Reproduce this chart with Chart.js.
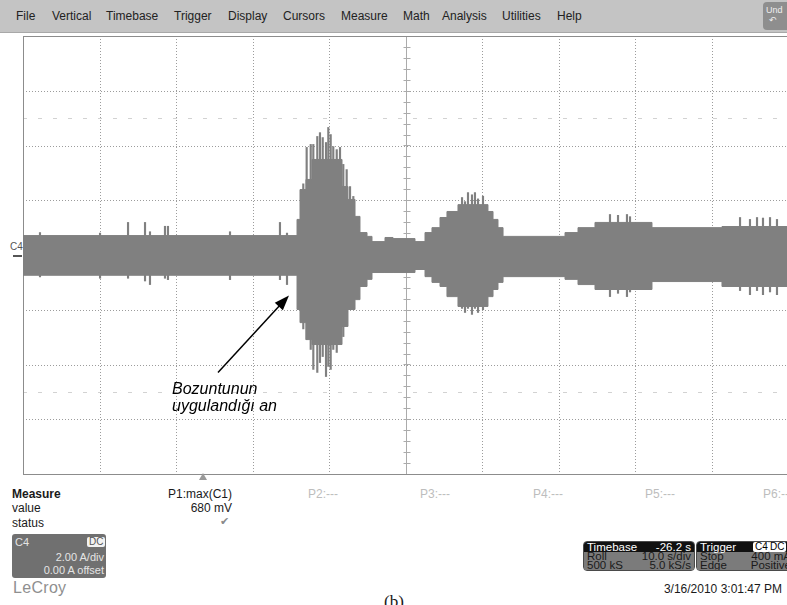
<!DOCTYPE html>
<html>
<head>
<meta charset="utf-8">
<script src="https://cdn.jsdelivr.net/npm/chart.js@4/dist/chart.umd.min.js"></script>
<style>
  body { margin:0; width:787px; height:605px; overflow:hidden; position:relative; background:#fff;
         font-family: Arial, "Liberation Sans", sans-serif; color:#1a1a1a; }
  .abs { position:absolute; white-space:nowrap; }
  #menu { position:absolute; left:0; top:0; width:787px; height:32px; background:#c4c4c4;
          border-bottom:1px solid #a8a8a8; }
  #menu span { position:absolute; top:9px; font-size:12px; line-height:14px; color:#222; }
  #undo { position:absolute; left:763px; top:2px; width:30px; height:28px; background:#8e8e8e;
          border-radius:4px; color:#eee; font-size:9px; line-height:10px; padding:3px 0 0 3px; box-sizing:border-box; }
  #plot { position:absolute; left:0; top:33px; width:800px; height:445px; }
  .row { font-size:12px; line-height:14px; }
  .dim { color:#bdbdbd; }
  #c4box { position:absolute; left:12px; top:534px; width:94px; height:44px; background:#707070;
           border-radius:3px; color:#e4e4e4; font-size:11px; }
  .tag { position:absolute; background:#f2f2f2; color:#555; border-radius:2px; font-size:10px;
         line-height:10px; padding:0 2px; }
  .panel { position:absolute; top:542px; height:28px; background:#7b7b7b; outline:1px solid #4a4a4a;
           border-radius:3px; overflow:hidden; font-size:11.5px; }
  .panel div { position:relative; height:9px; line-height:9px; padding:0 3px; white-space:nowrap; }
  .panel .hd { background:#111; color:#fff; height:10px; line-height:11px; }
  .panel .r { position:absolute; right:3px; top:0; }
</style>
</head>
<body>

<div id="menu">
  <span style="left:16px">File</span>
  <span style="left:52px">Vertical</span>
  <span style="left:106px">Timebase</span>
  <span style="left:174px">Trigger</span>
  <span style="left:228px">Display</span>
  <span style="left:283px">Cursors</span>
  <span style="left:341px">Measure</span>
  <span style="left:403px">Math</span>
  <span style="left:442px">Analysis</span>
  <span style="left:502px">Utilities</span>
  <span style="left:557px">Help</span>
  <div id="undo">Und<br>&nbsp;↶</div>
</div>

<div class="abs" style="left:10px;top:241px;font-size:10px;color:#555">C4</div>
<div class="abs" style="left:13px;top:255px;width:9px;height:2px;background:#555"></div>

<div id="plot"><canvas id="scope" width="800" height="445"></canvas></div>

<!-- measurement strip -->
<div class="abs" style="left:199px;top:473px;width:0;height:0;border-left:4px solid transparent;border-right:4px solid transparent;border-bottom:7px solid #9a9a9a"></div>
<div class="abs row" style="left:12px;top:487px;font-weight:bold">Measure</div>
<div class="abs row" style="left:12px;top:501px">value</div>
<div class="abs row" style="left:12px;top:516px">status</div>
<div class="abs row" style="right:555px;top:487px">P1:max(C1)</div>
<div class="abs row" style="right:555px;top:501px">680 mV</div>
<div class="abs" style="left:220px;top:515px;font-size:11px;color:#8a8a8a">✔</div>
<div class="abs row dim" style="left:308px;top:487px">P2:---</div>
<div class="abs row dim" style="left:420px;top:487px">P3:---</div>
<div class="abs row dim" style="left:533px;top:487px">P4:---</div>
<div class="abs row dim" style="left:645px;top:487px">P5:---</div>
<div class="abs row dim" style="left:763px;top:487px">P6:---</div>

<div id="c4box">
  <div class="abs" style="left:3px;top:2px">C4</div>
  <div class="tag" style="left:75px;top:3px">DC</div>
  <div class="abs" style="right:2px;top:17px">2.00 A/div</div>
  <div class="abs" style="right:2px;top:30px">0.00 A offset</div>
</div>
<div class="abs" style="left:13px;top:579px;font-size:16px;color:#8f8f8f;letter-spacing:0.3px">LeCroy</div>

<div class="panel" style="left:584px;width:110px">
  <div class="hd">Timebase<span class="r">-26.2 s</span></div>
  <div>Roll<span class="r">10.0 s/div</span></div>
  <div>500 kS<span class="r">5.0 kS/s</span></div>
</div>
<div class="panel" style="left:697px;width:110px">
  <div class="hd">Trigger<span class="tag" style="left:56px;top:0;background:#fff;color:#000">C4</span><span class="tag" style="left:71px;top:0;background:#fff;color:#000">DC</span></div>
  <div>Stop<span class="r" style="right:16px">400 mA</span></div>
  <div>Edge<span class="r" style="right:16px">Positive</span></div>
</div>
<div class="abs row" style="right:5px;top:582px">3/16/2010 3:01:47 PM</div>
<div class="abs" style="left:384px;top:592px;font-family:'Liberation Serif',serif;font-size:17px">(b)</div>

<script>
// channel C4, 2 A/div, 10 s/div (roll mode)
const envTime  = [0, 35.82, 36.21, 36.99, 37.78, 41.70, 42.48, 43.40, 44.05, 44.97, 45.62, 47.32, 48.37, 51.24,
                  52.55, 53.46, 54.51, 55.42, 56.86, 60.78, 61.44, 62.09, 62.75, 70.85, 72.55, 74.77, 82.22, 91.37, 100];
const envUpper = [0.71, 1.30, 2.39, 2.76, 3.49, 2.50, 2.03, 1.41, 0.82, 0.68, 0.49, 0.64, 0.60, 0.49,
                  0.82, 1.00, 1.37, 1.59, 1.84, 1.59, 1.30, 1.00, 0.68, 0.82, 1.00, 1.19, 1.00, 1.04, 1.04];
const envLower = [-0.74, -1.99, -2.47, -3.09, -3.27, -2.61, -1.99, -1.63, -1.15, -0.89, -0.64, -0.64, -0.64, -0.53,
                  -0.79, -1.00, -1.15, -1.52, -1.88, -1.52, -1.26, -1.00, -0.79, -0.89, -1.08, -1.26, -0.97, -1.15, -1.15];

// single cycles that poke out of the envelope
const spikeTime = [2.22, 10.07, 13.73, 15.95, 16.60, 18.56, 18.95, 27.06, 33.59, 34.51,
                   36.64, 37.08, 37.61, 37.95, 38.47, 38.82, 39.18, 39.61, 39.91, 40.22, 40.56, 41.01, 41.44,
                   41.87, 42.31, 42.75, 43.18,
                   57.39, 57.78, 58.17, 58.69, 59.08, 59.48, 60.13,
                   76.73, 77.78, 78.95, 79.35,
                   93.73, 95.03, 95.95, 96.73, 97.65, 98.56];
const spikeHigh = [0.82, 0.80, 1.19, 1.19, 0.85, 1.05, 1.05, 0.85, 1.19, 0.80,
                   2.60, 3.93, 4.04, 4.04, 4.33, 4.47, 4.29, 4.11, 4.66, 4.40, 3.96, 3.85, 3.93,
                   3.31, 3.12, 2.50, 2.14,
                   2.10, 1.95, 2.28, 2.20, 2.28, 2.05, 2.15,
                   1.48, 1.45, 1.48, 1.40,
                   1.37, 1.30, 1.37, 1.35, 1.37, 1.30];
const spikeLow  = [-0.80, -0.85, -0.85, -0.95, -1.08, -0.85, -0.90, -0.90, -0.90, -1.08,
                   -2.70, -3.09, -3.45, -4.18, -4.29, -3.93, -3.71, -4.44, -4.07, -4.18, -3.45, -3.56, -3.09,
                   -2.98, -2.10, -1.88, -1.63,
                   -1.95, -2.10, -1.95, -2.17, -1.95, -2.10, -2.00,
                   -1.52, -1.40, -1.52, -1.35,
                   -1.30, -1.45, -1.30, -1.45, -1.35, -1.45];

const timeMin = 0, timeMax = 100, timeDiv = 10;
const ampMin = -8, ampMax = 8, ampDiv = 2;
const waveColor = '#808080';

function seg(ctx, x0, y0, x1, y1) { ctx.beginPath(); ctx.moveTo(x0, y0); ctx.lineTo(x1, y1); ctx.stroke(); }

// graticule: dotted divisions, solid centre cross with minor ticks, frame
const graticule = {
  id: 'graticule',
  beforeDatasetsDraw(chart) {
    const { ctx, chartArea: a, scales: { x, y } } = chart;
    const px = v => Math.round(x.getPixelForValue(v)) + 0.5;
    const py = v => Math.round(y.getPixelForValue(v)) + 0.5;
    const tMid = (timeMin + timeMax) / 2, aMid = (ampMin + ampMax) / 2;
    ctx.save();
    ctx.lineWidth = 1;

    ctx.strokeStyle = '#9c9c9c';
    ctx.setLineDash([1, 2]);
    for (let t = timeMin + timeDiv; t < timeMax; t += timeDiv) if (t !== tMid) seg(ctx, px(t), a.top, px(t), a.bottom);
    for (let v = ampMin + ampDiv; v < ampMax; v += ampDiv) if (v !== aMid) seg(ctx, a.left, py(v), a.right, py(v));

    ctx.strokeStyle = '#d2d2d2';
    ctx.setLineDash([4, 11]);
    seg(ctx, a.left, py(5), a.right, py(5));
    seg(ctx, a.left, py(-5), a.right, py(-5));

    ctx.setLineDash([]);
    ctx.strokeStyle = '#ababab';
    seg(ctx, px(tMid), a.top, px(tMid), a.bottom);
    seg(ctx, a.left, py(aMid), a.right, py(aMid));
    for (let v = ampMin; v <= ampMax; v += ampDiv / 5) seg(ctx, px(tMid) - 3, py(v), px(tMid) + 4, py(v));
    for (let t = timeMin; t <= timeMax; t += timeDiv / 5) seg(ctx, px(t), py(aMid) - 3, px(t), py(aMid) + 4);

    ctx.strokeStyle = '#8c8c8c';
    ctx.strokeRect(a.left + 0.5, a.top + 0.5, a.right - a.left, a.bottom - a.top);
    ctx.restore();
  }
};

// note marking the moment the disturbance is applied
const note = {
  id: 'note',
  afterDatasetsDraw(chart) {
    const { ctx, scales: { x, y } } = chart;
    const tip = [x.getPixelForValue(34.77), y.getPixelForValue(-1.48)];
    const tail = [x.getPixelForValue(25.49), y.getPixelForValue(-4.29)];
    const ang = Math.atan2(tip[1] - tail[1], tip[0] - tail[0]);
    ctx.save();
    ctx.strokeStyle = '#000';
    ctx.lineWidth = 1.5;
    seg(ctx, tail[0], tail[1], tip[0] - 10 * Math.cos(ang), tip[1] - 10 * Math.sin(ang));
    ctx.fillStyle = '#000';
    ctx.beginPath();
    ctx.moveTo(tip[0], tip[1]);
    ctx.lineTo(tip[0] - 15 * Math.cos(ang) + 5.5 * Math.sin(ang), tip[1] - 15 * Math.sin(ang) - 5.5 * Math.cos(ang));
    ctx.lineTo(tip[0] - 15 * Math.cos(ang) - 5.5 * Math.sin(ang), tip[1] - 15 * Math.sin(ang) + 5.5 * Math.cos(ang));
    ctx.closePath();
    ctx.fill();
    ctx.font = 'italic 16px Arial, "Liberation Sans", sans-serif';
    ctx.textBaseline = 'alphabetic';
    const tx = x.getPixelForValue(19.48), ty = y.getPixelForValue(-5.06);
    ctx.fillText('Bozuntunun', tx, ty);
    ctx.fillText('uygulandığı an', tx, ty + 17);
    ctx.restore();
  }
};

new Chart(document.getElementById('scope').getContext('2d'), {
  type: 'line',
  data: {
    datasets: [
      { data: envTime.map((t, i) => ({ x: t, y: envUpper[i] })), stepped: true, fill: '+1',
        borderColor: waveColor, backgroundColor: waveColor, borderWidth: 1, pointRadius: 0 },
      { data: envTime.map((t, i) => ({ x: t, y: envLower[i] })), stepped: true, fill: false,
        borderColor: waveColor, borderWidth: 1, pointRadius: 0 },
      { type: 'bar', data: spikeTime.map((t, i) => ({ x: t, y: [spikeLow[i], spikeHigh[i]] })),
        backgroundColor: waveColor, barThickness: 1.5 }
    ]
  },
  options: {
    responsive: false,
    animation: false,
    events: [],
    layout: { padding: { left: 23, top: 3, right: 12, bottom: 4 } },
    plugins: { legend: { display: false }, tooltip: { enabled: false } },
    scales: {
      x: { type: 'linear', min: timeMin, max: timeMax, offset: false, display: false, grid: { offset: false } },
      y: { type: 'linear', min: ampMin, max: ampMax, display: false }
    }
  },
  plugins: [graticule, note]
});
</script>
</body>
</html>
